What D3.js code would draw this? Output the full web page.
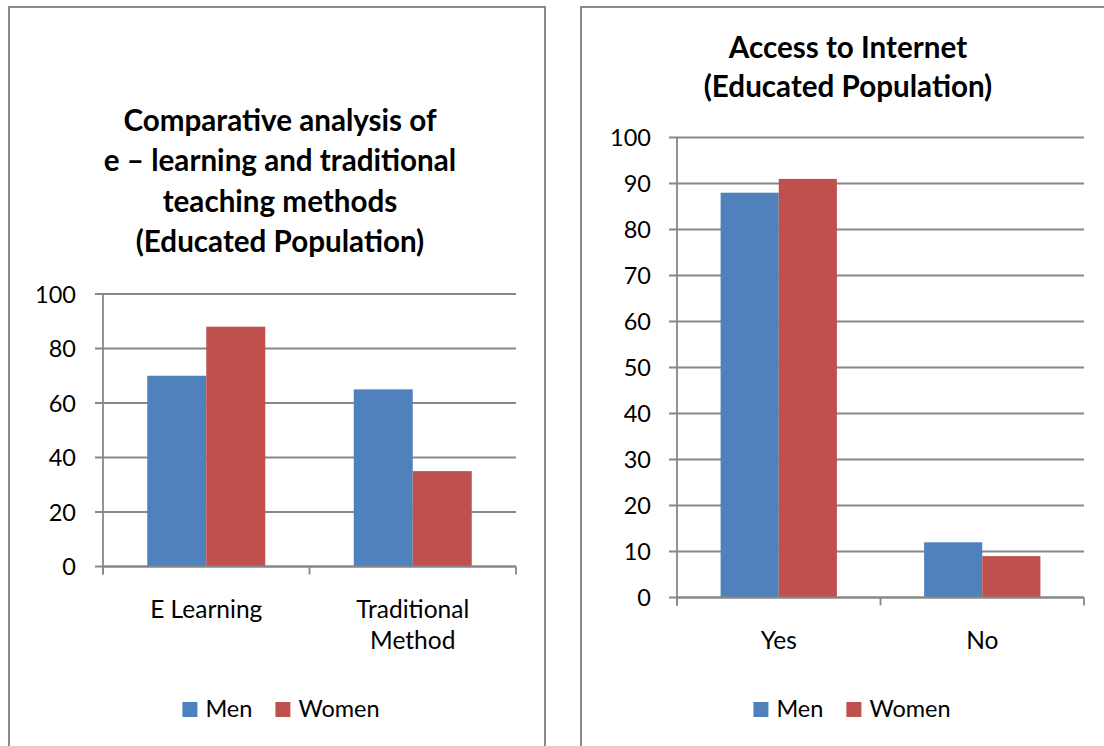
<!DOCTYPE html>
<html>
<head>
<meta charset="utf-8">
<script src="https://cdn.jsdelivr.net/npm/d3@7"></script>
<style>
  html, body { margin: 0; padding: 0; background: #fff; }
  svg { display: block; }
  text { font-family: Lato, "Noto Sans", sans-serif; fill: #000; }
</style>
</head>
<body>
<svg id="chart" width="1104" height="746"></svg>
<script>
// ---- data ----
const seriesNames = ["Men", "Women"];
const seriesColors = ["#4F81BD", "#C0504D"];

const leftTitle = ["Comparative analysis of", "e \u2013 learning and traditional", "teaching methods", "(Educated Population)"];
const leftCategories = ["E Learning", "Traditional Method"];
const leftCategoryLines = [["E Learning"], ["Traditional", "Method"]];
const leftMen = [70, 65];
const leftWomen = [88, 35];
const leftTicks = [0, 20, 40, 60, 80, 100];

const rightTitle = ["Access to Internet", "(Educated Population)"];
const rightCategories = ["Yes", "No"];
const rightCategoryLines = [["Yes"], ["No"]];
const rightMen = [88, 12];
const rightWomen = [91, 9];
const rightTicks = [0, 10, 20, 30, 40, 50, 60, 70, 80, 90, 100];

// ---- drawing ----
const svg = d3.select("#chart");
svg.append("rect").attr("width", 1104).attr("height", 746).attr("fill", "#fff");

const GRID = "#878787";
const FONT = 23.5;
const CAT_FONT = 24.5;
const TITLE_FONT = 29.6;

function drawPanel(cfg) {
  const g = svg.append("g");
  // panel border
  g.append("rect")
    .attr("x", cfg.box[0]).attr("y", cfg.box[1])
    .attr("width", cfg.box[2]).attr("height", cfg.box[3])
    .attr("fill", "none").attr("stroke", "#8a8a8a").attr("stroke-width", 2);

  // title
  const t = g.append("text")
    .attr("text-anchor", "middle")
    .attr("font-weight", "bold")
    .attr("font-size", TITLE_FONT);
  cfg.title.forEach((line, i) => {
    t.append("tspan").attr("x", cfg.titleX).attr("y", cfg.titleY + i * cfg.titleStep).text(line);
  });

  const x = d3.scaleBand().domain(cfg.categories).range([cfg.plot[0], cfg.plot[1]]).padding(0);
  const xs = d3.scaleBand().domain(seriesNames).range([0, x.bandwidth()]).paddingInner(0).paddingOuter(0.75);
  const y = d3.scaleLinear().domain([0, d3.max(cfg.ticks)]).range([cfg.plot[3], cfg.plot[2]]);

  // gridlines (with outward tick)
  g.append("g").selectAll("line").data(cfg.ticks).join("line")
    .attr("x1", cfg.plot[0] - 8).attr("x2", cfg.plot[1])
    .attr("y1", d => y(d)).attr("y2", d => y(d))
    .attr("stroke", GRID).attr("stroke-width", 1.8);

  // y axis labels via d3 axis
  const yAxis = g.append("g")
    .attr("transform", `translate(${cfg.plot[0]},0)`)
    .call(d3.axisLeft(y).tickValues(cfg.ticks).tickSize(0).tickPadding(cfg.labelPad).tickFormat(d3.format("d")));
  yAxis.select(".domain").remove();
  yAxis.selectAll("text").attr("font-size", FONT).attr("font-family", "Lato, 'Noto Sans', sans-serif").attr("fill", "#000").attr("dy", "0.34em");

  // bars
  const data = cfg.categories.map((c, i) => ({ c, vals: [cfg.men[i], cfg.women[i]] }));
  data.forEach(d => {
    g.append("g").selectAll("rect").data(seriesNames).join("rect")
      .attr("x", s => x(d.c) + xs(s))
      .attr("width", xs.bandwidth())
      .attr("y", (s, j) => y(d.vals[j]))
      .attr("height", (s, j) => y(0) - y(d.vals[j]))
      .attr("fill", (s, j) => seriesColors[j]);
  });

  // y axis line
  g.append("line")
    .attr("x1", cfg.plot[0]).attr("x2", cfg.plot[0])
    .attr("y1", y(d3.max(cfg.ticks))).attr("y2", y(0) + 8)
    .attr("stroke", GRID).attr("stroke-width", 1.8);
  // x axis line
  g.append("line")
    .attr("x1", cfg.plot[0]).attr("x2", cfg.plot[1])
    .attr("y1", y(0)).attr("y2", y(0))
    .attr("stroke", GRID).attr("stroke-width", 1.8);
  // category edge ticks
  const edges = cfg.categories.map(c => x(c)).concat([x(cfg.categories[cfg.categories.length - 1]) + x.bandwidth()]);
  g.append("g").selectAll("line").data(edges).join("line")
    .attr("x1", d => d).attr("x2", d => d)
    .attr("y1", y(0)).attr("y2", y(0) + 8)
    .attr("stroke", GRID).attr("stroke-width", 1.8);

  // category labels
  cfg.categories.forEach((c, i) => {
    const lt = g.append("text").attr("text-anchor", "middle").attr("font-size", CAT_FONT);
    cfg.catLines[i].forEach((line, k) => {
      lt.append("tspan").attr("x", x(c) + x.bandwidth() / 2).attr("y", y(0) + cfg.catOffset + k * 31).text(line);
    });
  });

  // legend
  const lg = g.append("g");
  const sq = 15, gapSq = 8, gapItem = 23;
  let cx = 0;
  const items = [];
  seriesNames.forEach((s, j) => {
    const r = lg.append("rect").attr("width", sq).attr("height", sq).attr("fill", seriesColors[j]);
    const tx = lg.append("text").attr("font-size", FONT).text(s);
    items.push({ r, tx });
  });
  items.forEach((it, j) => {
    it.r.attr("x", cx).attr("y", cfg.legendY - sq);
    cx += sq + gapSq;
    it.tx.attr("x", cx).attr("y", cfg.legendY);
    cx += it.tx.node().getComputedTextLength();
    if (j < items.length - 1) cx += gapItem;
  });
  lg.attr("transform", `translate(${cfg.legendCenter - cx / 2},0)`);
}

drawPanel({
  box: [9, 7, 536, 800],
  title: leftTitle, titleX: 280, titleY: 131, titleStep: 40.3,
  categories: leftCategories, catLines: leftCategoryLines,
  men: leftMen, women: leftWomen, ticks: leftTicks,
  plot: [103, 516, 294, 566.5],
  labelPad: 27, catOffset: 51,
  legendY: 717, legendCenter: 281
});

drawPanel({
  box: [581, 7, 600, 800],
  title: rightTitle, titleX: 848, titleY: 58, titleStep: 39,
  categories: rightCategories, catLines: rightCategoryLines,
  men: rightMen, women: rightWomen, ticks: rightTicks,
  plot: [677, 1084, 137.5, 597.5],
  labelPad: 26, catOffset: 51,
  legendY: 717, legendCenter: 852
});
</script>
</body>
</html>
